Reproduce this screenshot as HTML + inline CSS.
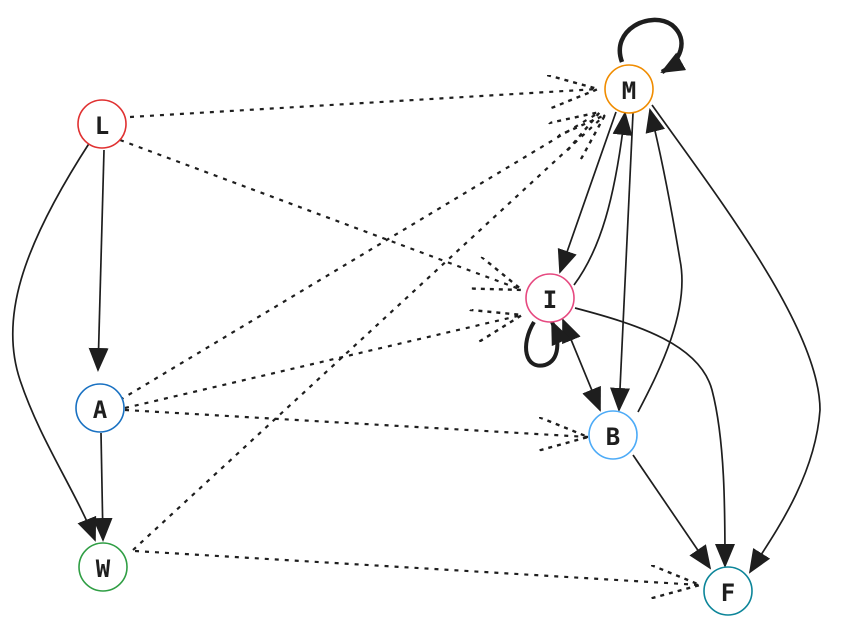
<!DOCTYPE html>
<html><head><meta charset="utf-8"><style>
body{margin:0;background:#fff;}
svg{display:block}
text{font-family:"DejaVu Sans Mono","Liberation Mono",monospace;font-size:24px;font-weight:bold;fill:#1e1e1e;text-anchor:middle;dominant-baseline:central}
</style></head><body>
<svg width="849" height="632" viewBox="0 0 849 632" xmlns="http://www.w3.org/2000/svg">
<defs>
<marker id="a" viewBox="0 0 24 20" refX="22" refY="10" markerWidth="24" markerHeight="20" markerUnits="userSpaceOnUse" orient="auto-start-reverse">
<path d="M0,0 L24,10 L0,20 Z" fill="#1e1e1e"/></marker>
<marker id="o" viewBox="0 0 50 34" refX="50" refY="17" markerWidth="50" markerHeight="34" markerUnits="userSpaceOnUse" orient="auto">
<path d="M0,0 L50,17 L0,34" fill="none" stroke="#1e1e1e" stroke-width="2.4" stroke-dasharray="4,5"/></marker>
</defs>
<g fill="none" stroke="#1e1e1e" stroke-width="2.2" stroke-dasharray="4,6" marker-end="url(#o)">
<path d="M130,117 L598,89"/>
<path d="M120,140 L522,290"/>
<path d="M120,400 L600,112"/>
<path d="M125,408 L522,315"/>
<path d="M125,410 L588,437"/>
<path d="M133,550 L605,115"/>
<path d="M135,551 L700,585"/>
</g>
<g fill="none" stroke="#1e1e1e" stroke-width="1.7" marker-end="url(#a)">
<path d="M104,150 L98,370"/>
<path d="M90,142 C20,250 0,320 20,380 C40,440 75,490 95,540"/>
<path d="M101,433 L103,540"/>
<path d="M616,112 L560,272"/>
<path d="M574,285 C600,250 615,200 625,113"/>
<path d="M633,113 L619,410"/>
<path d="M638,412 C660,370 690,310 680,260 C670,200 660,150 650,110"/>
<path d="M652,105 C720,200 820,330 820,410 C815,480 770,540 750,572"/>
<path d="M575,308 C640,325 700,345 712,390 C725,440 725,510 725,566"/>
<path d="M633,455 L710,568"/>
<path d="M563,320 L600,410" marker-start="url(#a)"/>
</g>
<path d="M622,62 C610,30 650,10 672,25 C690,40 680,62 662,72" fill="none" stroke="#1e1e1e" stroke-width="4.5" marker-end="url(#a)"/>
<path d="M534,322 C520,345 525,370 545,365 C560,360 560,340 552,322" fill="none" stroke="#1e1e1e" stroke-width="4" marker-end="url(#a)"/>
<g fill="#fff" stroke-width="1.6">
<circle cx="102" cy="124" r="24" stroke="#e03131"/>
<circle cx="629" cy="89" r="24" stroke="#f08c00"/>
<circle cx="550" cy="298" r="24" stroke="#e64980"/>
<circle cx="100" cy="408" r="24" stroke="#1971c2"/>
<circle cx="613" cy="435" r="24" stroke="#4dabf7"/>
<circle cx="103" cy="567" r="24" stroke="#2f9e44"/>
<circle cx="728" cy="591" r="24" stroke="#0c8599"/>
</g>
<text x="102" y="126">L</text>
<text x="629" y="91">M</text>
<text x="550" y="300">I</text>
<text x="100" y="410">A</text>
<text x="613" y="437">B</text>
<text x="103" y="569">W</text>
<text x="728" y="593">F</text>
</svg>
</body></html>
